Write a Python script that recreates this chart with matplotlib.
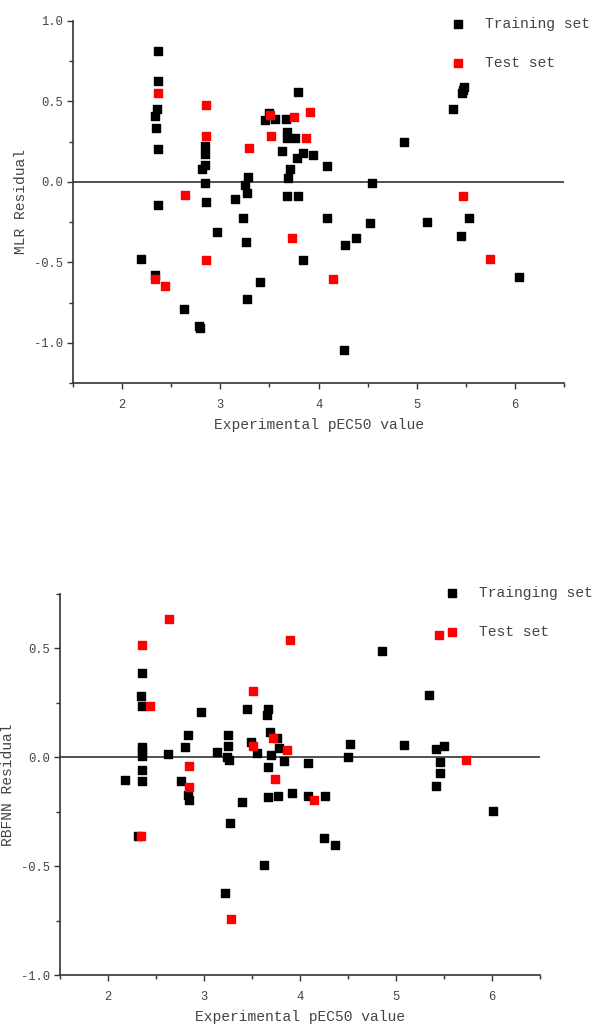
import matplotlib
matplotlib.use('Agg')
import matplotlib.pyplot as plt
from matplotlib.ticker import MultipleLocator, FormatStrFormatter

# MLR residuals
mlr_train_x = [2.19, 2.33, 2.37, 2.37, 2.36, 2.34, 2.35, 2.37, 2.37, 2.63,
               2.78, 2.79, 2.84, 2.84, 2.84, 2.81, 2.84, 2.85, 2.97, 3.15,
               3.23, 3.25, 3.28, 3.27, 3.26, 3.27, 3.40, 3.46, 3.50, 3.56,
               3.63, 3.67, 3.68, 3.68, 3.76, 3.79, 3.84, 3.94, 3.78, 3.71,
               3.69, 3.68, 3.79, 3.84, 4.09, 4.09, 4.27, 4.38, 4.26, 4.52,
               4.54, 4.87, 5.10, 5.37, 5.46, 5.47, 5.48, 5.45, 5.53, 6.04]
mlr_train_y = [-0.48, -0.58, 0.815, 0.624, 0.452, 0.411, 0.332, 0.205, -0.143, -0.79,
               -0.894, -0.91, 0.224, 0.174, 0.106, 0.081, -0.008, -0.124, -0.314, -0.108,
               -0.226, -0.019, 0.03, -0.066, -0.371, -0.726, -0.622, 0.383, 0.427, 0.39,
               0.193, 0.39, 0.307, 0.272, 0.275, 0.56, 0.18, 0.17, 0.147, 0.081,
               0.023, -0.087, -0.087, -0.483, 0.097, -0.226, -0.394, -0.35, -1.047, -0.257,
               -0.006, 0.245, -0.247, 0.456, 0.552, 0.57, 0.589, -0.334, -0.226, -0.593]
mlr_test_x = [2.37, 2.34, 2.44, 2.64, 2.85, 2.85, 2.85, 3.29, 3.51, 3.52,
              3.75, 3.73, 3.87, 3.91, 4.15, 5.47, 5.75]
mlr_test_y = [0.553, -0.602, -0.65, -0.081, 0.479, 0.288, -0.483, 0.213, 0.415, 0.287,
              0.403, -0.35, 0.275, 0.436, -0.606, -0.087, -0.481]

# RBFNN residuals
rbf_train_x = [2.18, 2.35, 2.34, 2.35, 2.35, 2.35, 2.35, 2.35, 2.35, 2.31,
               2.63, 2.76, 2.80, 2.83, 2.83, 2.84, 2.97, 3.14, 3.25, 3.25,
               3.24, 3.26, 3.27, 3.22, 3.40, 3.45, 3.49, 3.55, 3.62, 3.67,
               3.66, 3.685, 3.76, 3.78, 3.695, 3.835, 3.67, 3.67, 3.77, 3.92,
               4.08, 4.08, 4.26, 4.25, 4.36, 4.50, 4.52, 4.85, 5.08, 5.34,
               5.42, 5.50, 5.46, 5.46, 5.42, 6.01]
rbf_train_y = [-0.105, 0.385, 0.283, 0.235, 0.048, 0.028, 0.008, -0.057, -0.107, -0.36,
               0.017, -0.11, 0.045, 0.102, -0.175, -0.198, 0.207, 0.025, 0.102, 0.052,
               0.002, -0.011, -0.3, -0.623, -0.205, 0.22, 0.068, 0.021, -0.495, 0.22,
               0.196, 0.118, 0.09, 0.044, 0.009, -0.016, -0.045, -0.184, -0.178, -0.162,
               -0.028, -0.18, -0.178, -0.371, -0.405, 0.0, 0.063, 0.489, 0.057, 0.286,
               0.037, 0.052, -0.022, -0.073, -0.134, -0.248]
rbf_test_x = [2.355, 2.64, 2.44, 2.34, 2.845, 2.845, 3.28, 3.51, 3.51, 3.72,
              3.74, 3.86, 3.90, 4.145, 5.45, 5.73]
rbf_test_y = [0.517, 0.637, 0.235, -0.36, -0.041, -0.137, -0.742, 0.305, 0.052, 0.089,
              -0.101, 0.034, 0.54, -0.195, 0.561, -0.011]

W, H = 592, 1026
FONT = 'Liberation Mono'
TXT = '#444444'
AX = '#333333'


def style_axes(ax, ylim, ylabel):
    ax.set_xlim(1.5, 6.5)
    ax.set_ylim(*ylim)
    for side in ['top', 'right']:
        ax.spines[side].set_visible(False)
    for side in ['left', 'bottom']:
        ax.spines[side].set_color(AX)
        ax.spines[side].set_linewidth(1.2)
    ax.xaxis.set_major_locator(MultipleLocator(1))
    ax.xaxis.set_minor_locator(MultipleLocator(0.5))
    ax.yaxis.set_major_locator(MultipleLocator(0.5))
    ax.yaxis.set_minor_locator(MultipleLocator(0.25))
    ax.yaxis.set_major_formatter(FormatStrFormatter('%.1f'))
    ax.tick_params(which='major', length=4, width=1, color=AX, labelcolor=TXT,
                   labelsize=8.7, labelfontfamily=FONT)
    ax.tick_params(axis='x', which='major', pad=7.5)
    ax.tick_params(which='minor', length=3, width=1, color=AX)
    ax.axhline(0, color=AX, lw=1.2, zorder=1)
    ax.set_xlabel('Experimental pEC50 value', fontsize=10.5, family=FONT,
                  color=TXT, labelpad=5)
    ax.set_ylabel(ylabel, fontsize=10.5, family=FONT, color=TXT, labelpad=4)


def add_legend(ax, labels, x0, y0):
    ax.legend(labels, loc='upper left', bbox_to_anchor=(x0 / W, 1 - y0 / H),
              bbox_transform=fig.transFigure, frameon=False, borderpad=0,
              borderaxespad=0, handlelength=1.0, handletextpad=1.3,
              labelspacing=1.72, prop={'family': FONT, 'size': 10.5},
              labelcolor=TXT)


fig = plt.figure(figsize=(W / 100, H / 100), dpi=100)
ax1 = fig.add_axes([73 / W, 1 - 383 / H, (564 - 73) / W, (383 - 21) / H])
ax2 = fig.add_axes([60 / W, 1 - 975 / H, (540 - 60) / W, (975 - 594) / H])

ax1.scatter(mlr_train_x, mlr_train_y, marker='s', s=36, c='black', zorder=3)
ax1.scatter(mlr_test_x, mlr_test_y, marker='s', s=36, c='red', zorder=4)
style_axes(ax1, (-1.25, 1.0), 'MLR Residual')
add_legend(ax1, ['Training set', 'Test set'], 451, 17)

ax2.scatter(rbf_train_x, rbf_train_y, marker='s', s=36, c='black', zorder=3)
ax2.scatter(rbf_test_x, rbf_test_y, marker='s', s=36, c='red', zorder=4)
style_axes(ax2, (-1.0, 0.75), 'RBFNN Residual')
add_legend(ax2, ['Trainging set', 'Test set'], 445, 586)

fig.savefig('out.png', dpi=100)
